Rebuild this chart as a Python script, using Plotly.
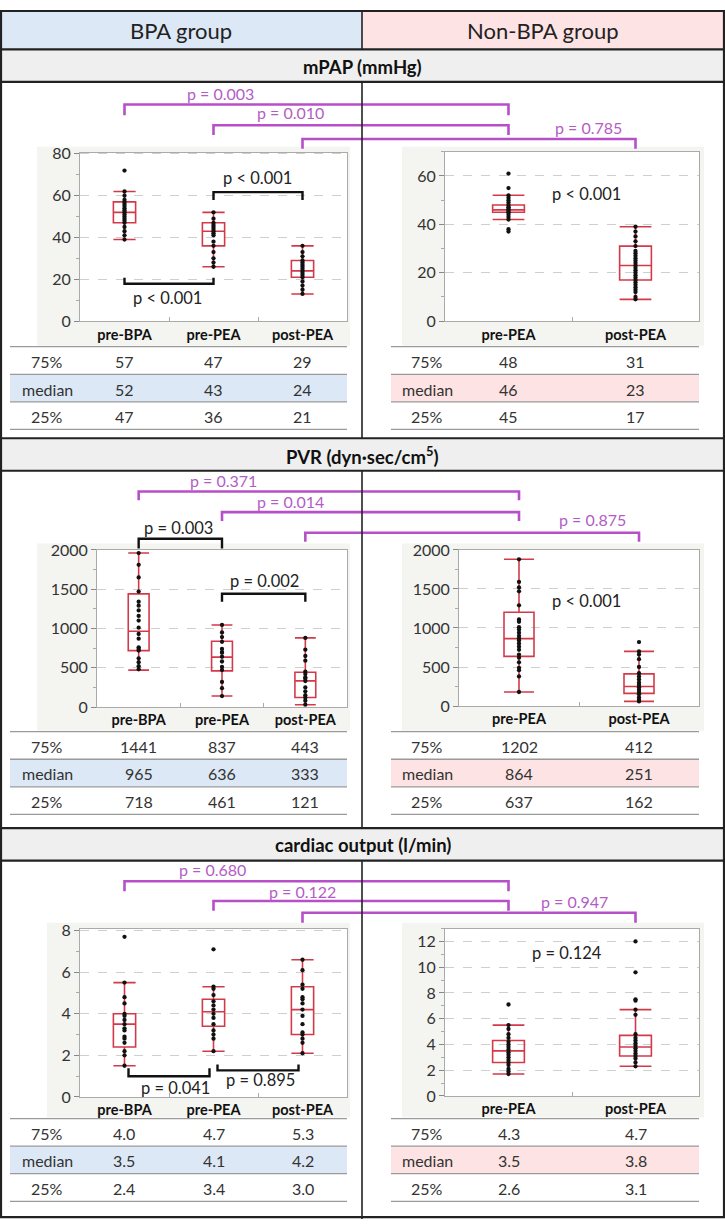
import plotly.graph_objects as go

W, H = 725, 1228
FONT = "Lato, 'Noto Sans', sans-serif"

# ---------------- data ----------------
bpa_cats = ["pre-BPA", "pre-PEA", "post-PEA"]
non_cats = ["pre-PEA", "post-PEA"]
row_labels = ["75%", "median", "25%"]

# mPAP (mmHg)
mpap_bpa_q3 = [57, 47, 29]
mpap_bpa_median = [52, 43, 24]
mpap_bpa_q1 = [47, 36, 21]
mpap_bpa_low = [39, 26, 13]
mpap_bpa_high = [62, 52, 36]
mpap_bpa_points = [
    [72, 62, 60, 58, 57, 56, 55, 54, 53, 52, 51, 50, 49, 48, 47, 45, 43, 41, 39],
    [52, 49, 47, 46, 45, 44, 43, 42, 41, 38, 36, 33, 30, 28, 26],
    [36, 33, 31, 29, 28, 27, 26, 25, 24, 23, 22, 21, 19, 17, 15, 13],
]
mpap_non_q3 = [48, 31]
mpap_non_median = [46, 23]
mpap_non_q1 = [45, 17]
mpap_non_low = [42, 9]
mpap_non_high = [52, 39]
mpap_non_points = [
    [61, 55, 52, 51, 50, 49, 48, 47, 47, 46, 46, 45, 45, 44, 43, 42, 38, 37],
    [39, 37, 35, 33, 31, 29, 28, 27, 26, 25, 24, 23, 22, 21, 20, 19, 18, 17,
     16, 15, 14, 13, 12, 10, 9],
]
mpap_cross_p = ["p = 0.003", "p = 0.010", "p = 0.785"]
mpap_within_p = ["p < 0.001", "p < 0.001"]
mpap_non_p = "p < 0.001"

# PVR (dyn·sec/cm5)
pvr_bpa_q3 = [1441, 837, 443]
pvr_bpa_median = [965, 636, 333]
pvr_bpa_q1 = [718, 461, 121]
pvr_bpa_low = [470, 140, 30]
pvr_bpa_high = [1960, 1045, 880]
pvr_bpa_points = [
    [1960, 1810, 1650, 1470, 1340, 1290, 1230, 1160, 1100, 1010, 930, 870,
     760, 740, 720, 620, 570, 520, 480],
    [1045, 950, 890, 830, 740, 700, 690, 640, 580, 510, 470, 320, 240, 140],
    [880, 730, 650, 590, 450, 420, 380, 360, 330, 250, 200, 150, 120, 80, 30],
]
pvr_non_q3 = [1202, 412]
pvr_non_median = [864, 251]
pvr_non_q1 = [637, 162]
pvr_non_low = [180, 60]
pvr_non_high = [1880, 700]
pvr_non_points = [
    [1880, 1590, 1520, 1470, 1290, 1110, 1080, 1010, 980, 940, 900, 870, 840,
     800, 760, 720, 660, 620, 560, 490, 460, 380, 180],
    [820, 700, 660, 600, 500, 420, 380, 340, 300, 270, 240, 210, 180, 150,
     110, 80, 60],
]
pvr_cross_p = ["p = 0.371", "p = 0.014", "p = 0.875"]
pvr_within_p = ["p = 0.003", "p = 0.002"]
pvr_non_p = "p < 0.001"

# cardiac output (l/min)
co_bpa_q3 = [4.0, 4.7, 5.3]
co_bpa_median = [3.5, 4.1, 4.2]
co_bpa_q1 = [2.4, 3.4, 3.0]
co_bpa_low = [1.5, 2.2, 2.1]
co_bpa_high = [5.5, 5.3, 6.6]
co_bpa_points = [
    [7.7, 5.5, 4.8, 4.5, 4.0, 3.9, 3.7, 3.5, 3.3, 3.2, 2.9, 2.8, 2.6, 2.2, 2.0, 1.5],
    [7.1, 5.3, 5.2, 4.9, 4.6, 4.4, 4.2, 4.0, 3.8, 3.5, 3.2, 3.0, 2.8, 2.2],
    [6.6, 6.1, 5.4, 5.2, 4.8, 4.7, 4.5, 4.2, 3.9, 3.5, 3.1, 3.0, 2.8, 2.6, 2.1],
]
co_non_q3 = [4.3, 4.7]
co_non_median = [3.5, 3.8]
co_non_q1 = [2.6, 3.1]
co_non_low = [1.7, 2.3]
co_non_high = [5.5, 6.7]
co_non_points = [
    [7.1, 5.5, 5.2, 4.8, 4.5, 4.2, 4.0, 3.8, 3.6, 3.4, 3.2, 3.0, 2.8, 2.6, 2.4,
     2.1, 1.9, 1.7],
    [12.0, 9.6, 7.5, 7.4, 6.7, 6.3, 4.8, 4.5, 4.3, 4.1, 3.9, 3.7, 3.5, 3.3, 3.1,
     2.9, 2.6, 2.3],
]
co_cross_p = ["p = 0.680", "p = 0.122", "p = 0.947"]
co_within_p = ["p = 0.041", "p = 0.895"]
co_non_p = "p = 0.124"

group_titles = ["BPA group", "Non-BPA group"]
section_titles = ["mPAP (mmHg)", "PVR (dyn·sec/cm<sup>5</sup>)", "cardiac output (l/min)"]

# ---------------- layout helpers ----------------
BOX_RED = "#d23a4a"
PURPLE = "#b64fc8"
PURPLE_TXT = "#b45cc6"
PANEL_BG = "#f4f4f0"
BLUE = "#dce8f5"
PINK = "#fde3e3"
BAND = "#efefef"


def fx(x):
    return x / W


def fy(y):
    return 1 - y / H


panels = [
    dict(cats=bpa_cats, q1=mpap_bpa_q1, med=mpap_bpa_median, q3=mpap_bpa_q3,
         lo=mpap_bpa_low, hi=mpap_bpa_high, pts=mpap_bpa_points, fmt="{:.0f}",
         xpx=(80, 347), ypx=(145, 316), yrange=(0, 80.5), dtick=20, minor=10,
         bg=(37, 139, 350, 341), table=(10, 347, 342), label_x=47, shade=BLUE),
    dict(cats=non_cats, q1=mpap_non_q1, med=mpap_non_median, q3=mpap_non_q3,
         lo=mpap_non_low, hi=mpap_non_high, pts=mpap_non_points, fmt="{:.0f}",
         xpx=(445, 699), ypx=(144, 316), yrange=(0, 70), dtick=20, minor=10,
         bg=(402, 139, 704, 341), table=(391, 699, 342), label_x=427, shade=PINK),
    dict(cats=bpa_cats, q1=pvr_bpa_q1, med=pvr_bpa_median, q3=pvr_bpa_q3,
         lo=pvr_bpa_low, hi=pvr_bpa_high, pts=pvr_bpa_points, fmt="{:.0f}",
         xpx=(97, 347), ypx=(548, 708), yrange=(0, 2005), dtick=500, minor=250,
         bg=(37, 542, 350, 732), table=(10, 347, 733), label_x=47, shade=BLUE),
    dict(cats=non_cats, q1=pvr_non_q1, med=pvr_non_median, q3=pvr_non_q3,
         lo=pvr_non_low, hi=pvr_non_high, pts=pvr_non_points, fmt="{:.0f}",
         xpx=(459, 699), ypx=(548, 707), yrange=(0, 2005), dtick=500, minor=250,
         bg=(402, 542, 704, 732), table=(391, 699, 733), label_x=427, shade=PINK),
    dict(cats=bpa_cats, q1=co_bpa_q1, med=co_bpa_median, q3=co_bpa_q3,
         lo=co_bpa_low, hi=co_bpa_high, pts=co_bpa_points, fmt="{:.1f}",
         xpx=(80, 347), ypx=(933, 1104), yrange=(0, 8.1), dtick=2, minor=1,
         bg=(47, 927, 350, 1125), table=(10, 347, 1126), label_x=47, shade=BLUE),
    dict(cats=non_cats, q1=co_non_q1, med=co_non_median, q3=co_non_q3,
         lo=co_non_low, hi=co_non_high, pts=co_non_points, fmt="{:.1f}",
         xpx=(445, 699), ypx=(933, 1103), yrange=(0, 13), dtick=2, minor=1,
         bg=(402, 927, 704, 1125), table=(391, 699, 1126), label_x=427, shade=PINK),
]

ROW_H = 28


def cat_px(p, i):
    x0, x1 = p["xpx"]
    return x0 + (i + 0.5) * (x1 - x0) / len(p["cats"])


sections = [
    dict(title=section_titles[0], band=(40, 73), left=0, right=1,
         cross=[(0, 0, 96, 107, (220, 85)), (1, 0, 117, 127, (290, 104)),
                (2, 1, 131, 141, (588, 119))],
         cross_p=mpap_cross_p,
         within=[(1, 2, 185, 193, (257, 171), 0), (0, 1, 278, 272, (167, 293), 0)],
         within_p=mpap_within_p, non_p=mpap_non_p, non_xy=(586, 187)),
    dict(title=section_titles[1], band=(435, 468), left=2, right=3,
         cross=[(0, 0, 489, 498, (223, 478)), (1, 0, 510, 519, (290, 499)),
                (2, 1, 531, 540, (592, 518))],
         cross_p=pvr_cross_p,
         within=[(0, 1, 537, 547, (178, 526), 0), (1, 2, 593, 601, (264, 580), 0)],
         within_p=pvr_within_p, non_p=pvr_non_p, non_xy=(586, 600)),
    dict(title=section_titles[2], band=(831, 864), left=4, right=5,
         cross=[(0, 0, 885, 895, (212, 873)), (1, 0, 905, 915, (302, 895)),
                (2, 1, 917, 927, (574, 906))],
         cross_p=co_cross_p,
         within=[(0, 1, 1083, 1075, (175, 1095), 4), (1, 2, 1077, 1071, (260, 1087), 4)],
         within_p=co_within_p, non_p=co_non_p, non_xy=(567, 958)),
]

fig = go.Figure()
shapes = []
annotations = []


def rect(x0, y0, x1, y1, fill, layer="below", line=None):
    return dict(type="rect", xref="paper", yref="paper", layer=layer,
                x0=fx(x0), x1=fx(x1), y0=fy(y1), y1=fy(y0), fillcolor=fill,
                line=line or dict(width=0))


def hline(x0, x1, y, color, width, layer="above"):
    return dict(type="line", xref="paper", yref="paper", layer=layer,
                x0=fx(x0), x1=fx(x1), y0=fy(y), y1=fy(y),
                line=dict(color=color, width=width))


def vline(x, y0, y1, color, width, layer="above"):
    return dict(type="line", xref="paper", yref="paper", layer=layer,
                x0=fx(x), x1=fx(x), y0=fy(y0), y1=fy(y1),
                line=dict(color=color, width=width))


def bracket(xa, xb, y, tip, color, width):
    path = (f"M{fx(xa)},{fy(tip)} L{fx(xa)},{fy(y)} "
            f"L{fx(xb)},{fy(y)} L{fx(xb)},{fy(tip)}")
    return dict(type="path", xref="paper", yref="paper", path=path,
                line=dict(color=color, width=width), layer="above")


def text(x, y, s, size=15, color="#333", weight="normal"):
    annotations.append(dict(xref="paper", yref="paper", x=fx(x), y=fy(y), text=s,
                            showarrow=False, xanchor="center", yanchor="middle",
                            font=dict(family=FONT, size=size, color=color,
                                      weight=weight)))


# header row
shapes.append(rect(0, 0, 362, 40, BLUE))
shapes.append(rect(362, 0, W, 40, PINK))
text(181, 21, group_titles[0], size=22, color="#222")
text(543, 21, group_titles[1], size=22, color="#222")

# section bands
for s in sections:
    b0, b1 = s["band"]
    shapes.append(rect(0, b0, W, b1, BAND))
    text(W / 2, (b0 + b1) / 2 + 1, s["title"], size=18.5, color="#111", weight="bold")

# panels
for k, p in enumerate(panels, start=1):
    sfx = "" if k == 1 else str(k)
    x0, y0, x1, y1 = p["bg"]
    shapes.append(rect(x0, y0, x1, y1, PANEL_BG))
    shapes.append(rect(p["xpx"][0], p["ypx"][0], p["xpx"][1], p["ypx"][1], "white"))

    fig.add_trace(go.Box(
        x=p["cats"], q1=p["q1"], median=p["med"], q3=p["q3"],
        lowerfence=p["lo"], upperfence=p["hi"], boxpoints=False,
        width=0.25, whiskerwidth=1, fillcolor="rgba(0,0,0,0)",
        line=dict(color=BOX_RED, width=1.6), hoverinfo="skip",
        xaxis="x" + sfx, yaxis="y" + sfx, showlegend=False,
    ))
    xs, ys = [], []
    for c, vals in zip(p["cats"], p["pts"]):
        xs += [c] * len(vals)
        ys += vals
    fig.add_trace(go.Scatter(
        x=xs, y=ys, mode="markers", marker=dict(color="#111", size=4.3),
        xaxis="x" + sfx, yaxis="y" + sfx, showlegend=False, hoverinfo="skip",
    ))

    fig.update_layout(**{
        "xaxis" + sfx: dict(
            domain=[fx(p["xpx"][0]), fx(p["xpx"][1])], anchor="y" + sfx,
            type="category", categoryorder="array", categoryarray=p["cats"],
            range=[-0.5, len(p["cats"]) - 0.5], showline=True, linecolor="#aaa",
            linewidth=1, mirror=True, ticks="inside", tickson="boundaries",
            ticklen=4, tickcolor="#aaa", showgrid=False, fixedrange=True,
            tickfont=dict(family=FONT, size=14.5, color="#111", weight="bold"),
        ),
        "yaxis" + sfx: dict(
            domain=[fy(p["ypx"][1]), fy(p["ypx"][0])], anchor="x" + sfx,
            range=list(p["yrange"]), dtick=p["dtick"], tick0=0,
            showline=True, linecolor="#aaa", linewidth=1, mirror=True,
            ticks="outside", ticklen=5, tickcolor="#888", zeroline=False,
            showgrid=True, gridcolor="#cfcfcf", griddash="dash", gridwidth=1,
            minor=dict(ticks="outside", ticklen=3, tickcolor="#aaa",
                       dtick=p["minor"], showgrid=False),
            tickfont=dict(family=FONT, size=16, color="#333"), fixedrange=True,
        ),
    })

    # table below the panel
    tx0, tx1, ty = p["table"]
    shapes.append(rect(tx0, ty + ROW_H, tx1, ty + 2 * ROW_H, p["shade"]))
    for r in range(4):
        shapes.append(hline(tx0, tx1, ty + r * ROW_H, "#9a9a9a", 1.3))
    rows = [p["q3"], p["med"], p["q1"]]
    for r, (lab, vals) in enumerate(zip(row_labels, rows)):
        yc = ty + (r + 0.5) * ROW_H + 1
        text(p["label_x"], yc, lab, size=16)
        for i, v in enumerate(vals):
            text(cat_px(p, i), yc, p["fmt"].format(v), size=16)

# brackets and p values
for s in sections:
    pl, pr = panels[s["left"]], panels[s["right"]]
    for (il, ir, y, tip, lab_xy), ptxt in zip(s["cross"], s["cross_p"]):
        shapes.append(bracket(cat_px(pl, il), cat_px(pr, ir), y, tip, PURPLE, 2.6))
        text(lab_xy[0], lab_xy[1], ptxt, size=16, color=PURPLE_TXT)
    for (ia, ib, y, tip, lab_xy, inset), ptxt in zip(s["within"], s["within_p"]):
        shapes.append(bracket(cat_px(pl, ia) + inset, cat_px(pl, ib) - inset,
                              y, tip, "#111", 2.4))
        text(lab_xy[0], lab_xy[1], ptxt, size=16.5, color="#222")
    text(s["non_xy"][0], s["non_xy"][1], s["non_p"], size=16.5, color="#222")

# frame lines
BORDER = "#222"
for s in sections:
    shapes.append(hline(0, W, s["band"][0], BORDER, 2.2))
    shapes.append(hline(0, W, s["band"][1], BORDER, 2.2))
shapes.append(vline(362, 0, 40, BORDER, 1.6))
for y0, y1 in [(73, 435), (468, 831), (864, H)]:
    shapes.append(vline(362, y0, y1, BORDER, 1.6))
shapes.append(rect(1, 1, W - 1, H - 2, "rgba(0,0,0,0)", layer="above",
                   line=dict(color=BORDER, width=2.2)))

fig.update_layout(
    width=W, height=H, margin=dict(l=0, r=0, t=0, b=0),
    paper_bgcolor="white", plot_bgcolor="rgba(0,0,0,0)",
    shapes=shapes, annotations=annotations, showlegend=False,
    font=dict(family=FONT, color="#333"),
)

# pin the figure to the top-left corner of the page
fig.write_html(
    "out.html",
    config={"displayModeBar": False},
    post_script=(
        "document.body.style.margin='0';"
        "var gd=document.getElementById('{plot_id}');"
        "gd.style.position='absolute';gd.style.left='0px';gd.style.top='0px';"
    ),
)
